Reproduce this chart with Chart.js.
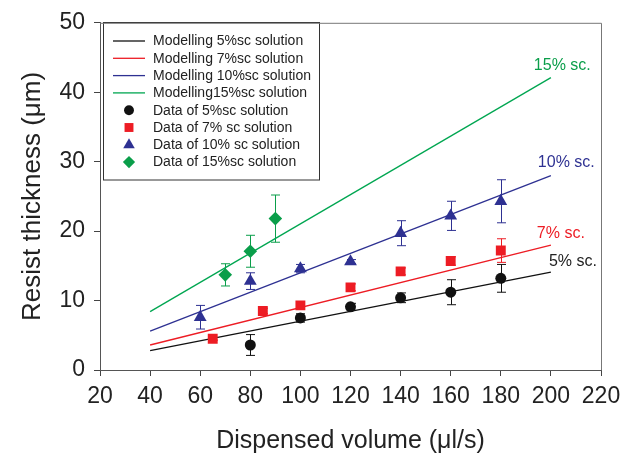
<!DOCTYPE html>
<html><head><meta charset="utf-8">
<script src="https://cdn.jsdelivr.net/npm/chart.js@4.4.0/dist/chart.umd.min.js"></script>
<style>html,body{margin:0;padding:0;background:#fff;}#wrap{width:623px;height:457px;}</style>
</head><body><div id="wrap"><canvas id="c" width="623" height="457"></canvas></div>
<script>
// ---- data ----
const modelX = [40, 200];
const model5 = [2.8, 14.1];
const model7 = [3.6, 18.0];
const model10 = [5.6, 28.0];
const model15 = [8.4, 42.1];

const data5X = [80, 100, 120, 140, 160, 180];
const data5Y = [3.6, 7.5, 9.1, 10.4, 11.2, 13.2];
const data5Err = [1.5, 0.6, 0.5, 0.7, 1.8, 2.0];

const data7X = [65, 85, 100, 120, 140, 160, 180];
const data7Y = [4.5, 8.5, 9.3, 11.9, 14.2, 15.7, 17.2];
const data7Err = [0.2, 0.4, 0.4, 0.5, 0.5, 0.6, 1.7];

const data10X = [60, 80, 100, 120, 140, 160, 180];
const data10Y = [7.6, 12.8, 14.6, 15.6, 19.7, 22.2, 24.3];
const data10Err = [1.7, 1.2, 0.6, 0.3, 1.8, 2.1, 3.1];

const data15X = [70, 80, 90];
const data15Y = [13.7, 17.1, 21.8];
const data15Err = [1.6, 2.3, 3.4];

const xTickValues = [20, 40, 60, 80, 100, 120, 140, 160, 180, 200, 220];
const yTickValues = [0, 10, 20, 30, 40, 50];

const curveLabels = ['15% sc.', '10% sc.', '7% sc.', '5% sc.'];
const legendLabels = ['Modelling 5%sc solution', 'Modelling 7%sc solution', 'Modelling 10%sc solution', 'Modelling15%sc solution',
  'Data of 5%sc solution', 'Data of 7% sc solution', 'Data of 10% sc solution', 'Data of 15%sc solution'];

// ---- styles ----
const C_BLACK = '#111111', C_RED = '#ed1c24', C_BLUE = '#2e3192', C_GREEN = '#00a651';
const FONT = '"Liberation Sans", Arial, Helvetica, sans-serif';

const pts = (xs, ys) => xs.map((x, i) => ({x, y: ys[i]}));

const lineDs = (label, ys, color) => ({
  type: 'line', label, data: pts(modelX, ys), borderColor: color, borderWidth: 1.3,
  pointRadius: 0, fill: false, tension: 0, order: 2
});
const scatDs = (label, xs, ys, errs, color, style, r) => ({
  type: 'scatter', label, data: pts(xs, ys), errors: errs, errColor: color,
  backgroundColor: color, borderColor: color, borderWidth: 0,
  pointStyle: style, pointRadius: r, pointHoverRadius: r, order: 1
});

const datasets = [
  lineDs(legendLabels[0], model5, C_BLACK),
  lineDs(legendLabels[1], model7, C_RED),
  lineDs(legendLabels[2], model10, C_BLUE),
  lineDs(legendLabels[3], model15, C_GREEN),
  scatDs(legendLabels[4], data5X, data5Y, data5Err, C_BLACK, 'circle', 5.5),
  scatDs(legendLabels[5], data7X, data7Y, data7Err, C_RED, 'rect', 7.0),
  scatDs(legendLabels[6], data10X, data10Y, data10Err, C_BLUE, 'triangle', 7.4),
  scatDs(legendLabels[7], data15X, data15Y, data15Err, '#0a9e4a', 'rectRot', 6.8)
];

const errorBars = {
  id: 'errorBars',
  beforeDatasetsDraw(chart) {
    const ctx = chart.ctx, xs = chart.scales.x, ys = chart.scales.y;
    ctx.save();
    ctx.lineWidth = 1;
    chart.data.datasets.forEach(ds => {
      if (!ds.errors) return;
      ctx.strokeStyle = ds.errColor;
      ds.data.forEach((p, i) => {
        const e = ds.errors[i];
        const px = Math.round(xs.getPixelForValue(p.x)) + 0.5;
        const y1 = ys.getPixelForValue(p.y + e), y2 = ys.getPixelForValue(p.y - e);
        ctx.beginPath();
        ctx.moveTo(px, y1); ctx.lineTo(px, y2);
        ctx.moveTo(px - 4.5, y1); ctx.lineTo(px + 4.5, y1);
        ctx.moveTo(px - 4.5, y2); ctx.lineTo(px + 4.5, y2);
        ctx.stroke();
      });
    });
    ctx.restore();
  }
};

const frame = {
  id: 'frame',
  afterDraw(chart) {
    const {ctx, chartArea: a} = chart;
    ctx.save();
    ctx.strokeStyle = '#777';
    ctx.lineWidth = 1;
    ctx.beginPath();
    ctx.moveTo(a.left, a.top + 0.5); ctx.lineTo(a.right + 0.5, a.top + 0.5); ctx.lineTo(a.right + 0.5, a.bottom);
    ctx.stroke();
    ctx.restore();
  }
};

const curveText = {
  id: 'curveText',
  afterDatasetsDraw(chart, args, opts) {
    const ctx = chart.ctx, xs = chart.scales.x, ys = chart.scales.y;
    ctx.save();
    ctx.font = '16px ' + FONT;
    ctx.textBaseline = 'middle';
    ctx.textAlign = 'left';
    opts.items.forEach(it => {
      ctx.fillStyle = it.color;
      ctx.fillText(it.text, xs.getPixelForValue(it.x), ys.getPixelForValue(it.y));
    });
    ctx.restore();
  }
};

const boxLegend = {
  id: 'boxLegend',
  afterDatasetsDraw(chart) {
    const ctx = chart.ctx;
    const bx = 103.5, by = 22.5, bw = 216, bh = 157.5;
    ctx.save();
    ctx.fillStyle = '#fff';
    ctx.fillRect(bx, by, bw, bh);
    ctx.strokeStyle = '#333';
    ctx.lineWidth = 1;
    ctx.strokeRect(bx, by, bw, bh);
    ctx.font = '14px ' + FONT;
    ctx.textBaseline = 'middle';
    ctx.textAlign = 'left';
    chart.data.datasets.forEach((ds, i) => {
      const cy = 41 + i * 17.3;
      if (ds.type === 'line') {
        ctx.strokeStyle = ds.borderColor;
        ctx.lineWidth = 1.3;
        ctx.beginPath(); ctx.moveTo(113, cy); ctx.lineTo(145, cy); ctx.stroke();
      } else {
        ctx.fillStyle = ds.backgroundColor;
        ctx.strokeStyle = ds.backgroundColor;
        ctx.lineWidth = 0;
        Chart.helpers.drawPoint(ctx, {pointStyle: ds.pointStyle, radius: ds.pointRadius * 0.9, borderWidth: 0}, 129, cy);
      }
      ctx.fillStyle = '#222';
      ctx.fillText(ds.label, 153, cy + 0.5);
    });
    ctx.restore();
  }
};

new Chart(document.getElementById('c'), {
  data: { datasets },
  options: {
    responsive: false, animation: false, devicePixelRatio: 1,
    layout: { padding: { top: 19, right: 22, left: 0, bottom: 0 } },
    plugins: {
      legend: { display: false }, tooltip: { enabled: false },
      curveText: { items: [
        { text: curveLabels[0], x: 193.2, y: 43.9, color: '#0a9e4a' },
        { text: curveLabels[1], x: 194.8, y: 29.8, color: C_BLUE },
        { text: curveLabels[2], x: 194.4, y: 19.6, color: C_RED },
        { text: curveLabels[3], x: 199.2, y: 15.6, color: '#222' }
      ] }
    },
    scales: {
      x: {
        type: 'linear', min: 20, max: 220,
        afterFit: s => { s.height = 87; s.paddingRight = 0; s.paddingLeft = 0; },
        afterBuildTicks: s => { s.ticks = xTickValues.map(v => ({value: v})); },
        ticks: { font: { size: 23, family: FONT }, color: '#222', padding: 7, maxRotation: 0 },
        grid: { drawOnChartArea: false, tickLength: 6, color: '#444' },
        border: { color: '#555', width: 1 },
        title: { display: true, text: 'Dispensed volume (μl/s)', font: { size: 25, family: FONT }, color: '#222', padding: { top: 0, bottom: 1 } }
      },
      y: {
        type: 'linear', min: 0, max: 50,
        afterFit: s => { s.width = 100; },
        afterBuildTicks: s => { s.ticks = yTickValues.map(v => ({value: v})); },
        ticks: { font: { size: 23, family: FONT }, color: '#222', padding: 9 },
        grid: { drawOnChartArea: false, tickLength: 6, color: '#444' },
        border: { color: '#555', width: 1 },
        title: { display: true, text: 'Resist thickness (μm)', font: { size: 26, family: FONT }, color: '#222', padding: { top: 17, bottom: 0 } }
      }
    }
  },
  plugins: [errorBars, frame, curveText, boxLegend]
});
</script>
</body></html>
